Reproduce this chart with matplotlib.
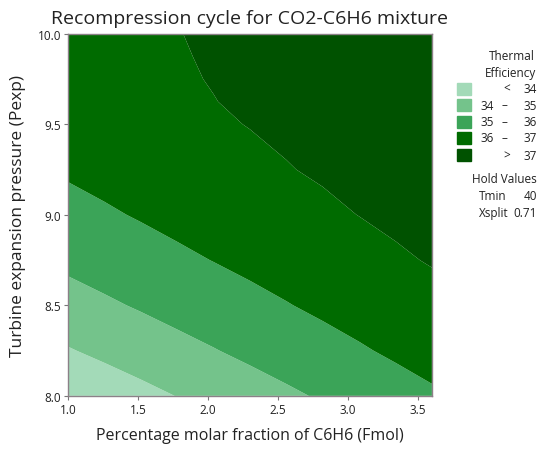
import numpy as np
import matplotlib.pyplot as plt
from matplotlib.patches import Rectangle

plt.rcParams['font.family'] = ['Open Sans', 'DejaVu Sans']

# grid of the fitted response (Tmin = 40, Xsplit = 0.71 held)
fmol = [1.0, 1.26, 1.52, 1.78, 2.04, 2.30, 2.56, 2.82, 3.08, 3.34, 3.60]
pexp = [8.0, 8.25, 8.5, 8.75, 9.0, 9.25, 9.5, 9.625, 9.75, 9.875, 10.0]
eff = [
    [33.17, 33.46, 33.74, 34.02, 34.30, 34.57, 34.84, 35.10, 35.36, 35.62, 35.87],
    [33.94, 34.20, 34.46, 34.72, 34.96, 35.21, 35.45, 35.68, 35.91, 36.14, 36.36],
    [34.62, 34.86, 35.09, 35.32, 35.54, 35.75, 35.96, 36.17, 36.37, 36.56, 36.75],
    [35.21, 35.42, 35.63, 35.83, 36.02, 36.21, 36.39, 36.57, 36.73, 36.90, 37.05],
    [35.71, 35.89, 36.07, 36.25, 36.41, 36.57, 36.72, 36.87, 37.01, 37.14, 37.26],
    [36.11, 36.27, 36.43, 36.57, 36.71, 36.84, 36.97, 37.08, 37.19, 37.29, 37.38],
    [36.42, 36.56, 36.69, 36.81, 36.92, 37.02, 37.11, 37.20, 37.28, 37.35, 37.41],
    [36.54, 36.67, 36.78, 36.89, 36.99, 37.07, 37.15, 37.23, 37.29, 37.34, 37.39],
    [36.64, 36.75, 36.86, 36.95, 37.02, 37.11, 37.17, 37.23, 37.28, 37.31, 37.34],
    [36.72, 36.81, 36.90, 36.97, 37.04, 37.11, 37.17, 37.21, 37.24, 37.26, 37.28],
    [36.77, 36.85, 36.93, 36.99, 37.05, 37.10, 37.14, 37.16, 37.18, 37.19, 37.18],
]
levels = [30, 34, 35, 36, 37, 40]
band_labels = ['<', '34  –  35', '35  –  36', '36  –  37', '>']
band_colors = ['#a3dab8', '#74c38b', '#3ba458', '#006b00', '#005200']
hold_names = ['Tmin', 'Xsplit']
hold_values = ['40', '0.71']

fig = plt.figure(figsize=(5.44, 4.52), dpi=100)
ax = fig.add_axes([0.125, 0.122, 0.669, 0.801])

X, Y = np.meshgrid(fmol, pexp)
ax.contourf(X, Y, np.array(eff), levels=levels, colors=band_colors, antialiased=True)

ax.set_xlim(1.0, 3.6)
ax.set_ylim(8.0, 10.0)
ax.set_xticks([1.0, 1.5, 2.0, 2.5, 3.0, 3.5])
ax.set_yticks([8.0, 8.5, 9.0, 9.5, 10.0])
ax.xaxis.set_major_formatter(plt.FormatStrFormatter('%.1f'))
ax.yaxis.set_major_formatter(plt.FormatStrFormatter('%.1f'))
ax.tick_params(labelsize=8.5, length=3, color='#777777', pad=2, labelcolor='#222222')
for s in ax.spines.values():
    s.set_color('#8c8088')
    s.set_linewidth(1.0)

ax.set_title('Recompression cycle for CO2-C6H6 mixture', fontsize=14, pad=8, color='#222222')
ax.set_xlabel('Percentage molar fraction of C6H6 (Fmol)', fontsize=11.5, labelpad=8, color='#222222')
ax.set_ylabel('Turbine expansion pressure (Pexp)', fontsize=12.5, labelpad=8, color='#222222')

# legend block on the right
fx = lambda px: px / 544
fy = lambda py: 1 - py / 452
fs = 8.5
tc = '#222222'
fig.text(fx(535), fy(56), 'Thermal', ha='right', va='center', fontsize=fs, color=tc)
fig.text(fx(536), fy(73), 'Efficiency', ha='right', va='center', fontsize=fs, color=tc)
rows = [89.5, 106, 122.5, 139, 156]
for r, lab, col in zip(rows, band_labels, band_colors):
    fig.patches.append(Rectangle((fx(457), fy(r + 6)), 14 / 544, 12 / 452,
                                 transform=fig.transFigure, color=col))
    if lab == '<':
        fig.text(fx(507), fy(r), '<', ha='center', va='center', fontsize=fs, color=tc)
        fig.text(fx(537), fy(r), '34', ha='right', va='center', fontsize=fs, color=tc)
    elif lab == '>':
        fig.text(fx(507), fy(r), '>', ha='center', va='center', fontsize=fs, color=tc)
        fig.text(fx(537), fy(r), '37', ha='right', va='center', fontsize=fs, color=tc)
    else:
        lo, hi = lab.split('  –  ')
        fig.text(fx(487), fy(r), lo, ha='center', va='center', fontsize=fs, color=tc)
        fig.text(fx(504), fy(r), '–', ha='center', va='center', fontsize=fs, color=tc)
        fig.text(fx(537), fy(r), hi, ha='right', va='center', fontsize=fs, color=tc)

fig.text(fx(537), fy(180), 'Hold Values', ha='right', va='center', fontsize=fs, color=tc)
for i, (n, v) in enumerate(zip(hold_names, hold_values)):
    yy = fy(197 + 17 * i)
    fig.text(fx(479), yy, n, ha='left', va='center', fontsize=fs, color=tc)
    fig.text(fx(537), yy, v, ha='right', va='center', fontsize=fs, color=tc)

fig.savefig('out.png', dpi=100)
